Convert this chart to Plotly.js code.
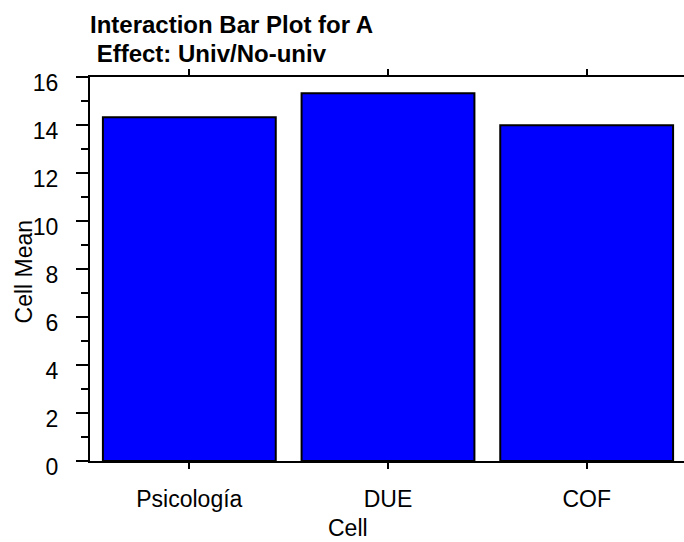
<!DOCTYPE html>
<html>
<head>
<meta charset="utf-8">
<script src="https://cdn.plot.ly/plotly-3.0.1.min.js"></script>
<style>
html, body { margin: 0; padding: 0; overflow: hidden; background: #fff; }
#chart { width: 690px; height: 542px; }
</style>
</head>
<body>
<div id="chart"></div>
<script>
const categories = ["Psicología", "DUE", "COF"];
const cellMeans = [14.32, 15.32, 13.99];
const yTickValues = [0, 2, 4, 6, 8, 10, 12, 14, 16];
const titleLine1 = "Interaction Bar Plot for A";
const titleLine2 = "\u00a0Effect: Univ/No-univ";
const xTitle = "Cell";
const yTitle = "Cell Mean";

const FONT = "Liberation Sans, Arial, Helvetica, sans-serif";

const trace = {
  type: "bar",
  x: categories,
  y: cellMeans,
  marker: { color: "#0000ff", line: { color: "#000000", width: 2 } },
  hoverinfo: "skip"
};

const layout = {
  width: 690,
  height: 542,
  margin: { l: 90, r: 4, t: 77, b: 81 },
  paper_bgcolor: "#ffffff",
  plot_bgcolor: "#ffffff",
  showlegend: false,
  bargap: 0.13,
  font: { family: FONT, size: 23, color: "#000000" },
  xaxis: {
    type: "category",
    range: [-0.5, 2.5],
    showgrid: false,
    zeroline: false,
    showline: true,
    linecolor: "#000000",
    linewidth: 2,
    mirror: "ticks",
    ticks: "outside",
    ticklen: 6,
    tickwidth: 2,
    tickcolor: "#000000",
    ticklabelstandoff: 10,
    tickfont: { family: FONT, size: 23, color: "#000000" }
  },
  yaxis: {
    range: [0, 16],
    tickvals: yTickValues,
    showgrid: false,
    zeroline: false,
    showline: true,
    linecolor: "#000000",
    linewidth: 2,
    ticks: "outside",
    ticklen: 12,
    tickwidth: 2,
    tickcolor: "#000000",
    ticklabelstandoff: 13,
    ticklabelshift: 6,
    tickfont: { family: FONT, size: 23, color: "#000000" },
    minor: { dtick: 1, ticks: "outside", ticklen: 7, tickwidth: 2, tickcolor: "#000000", showgrid: false }
  },
  annotations: [
    { text: "<b>" + titleLine1 + "</b>", xref: "paper", yref: "paper", x: 0, y: 1.1406, xanchor: "left", yanchor: "middle", showarrow: false, font: { family: FONT, size: 24, color: "#000" }, xshift: -2, yshift: -1 },
    { text: "<b>" + titleLine2 + "</b>", xref: "paper", yref: "paper", x: 0, y: 1.0651, xanchor: "left", yanchor: "middle", showarrow: false, font: { family: FONT, size: 24, color: "#000" }, xshift: -2, yshift: -1 },
    { text: xTitle, xref: "paper", yref: "paper", x: 0.433, y: -0.1745, xanchor: "center", yanchor: "middle", showarrow: false, font: { family: FONT, size: 23, color: "#000" } },
    { text: yTitle, xref: "paper", yref: "paper", x: -0.1116, y: 0.495, xanchor: "center", yanchor: "middle", textangle: -90, showarrow: false, font: { family: FONT, size: 23, color: "#000" } }
  ]
};

Plotly.newPlot("chart", [trace], layout, { staticPlot: true, displayModeBar: false });
</script>
</body>
</html>
